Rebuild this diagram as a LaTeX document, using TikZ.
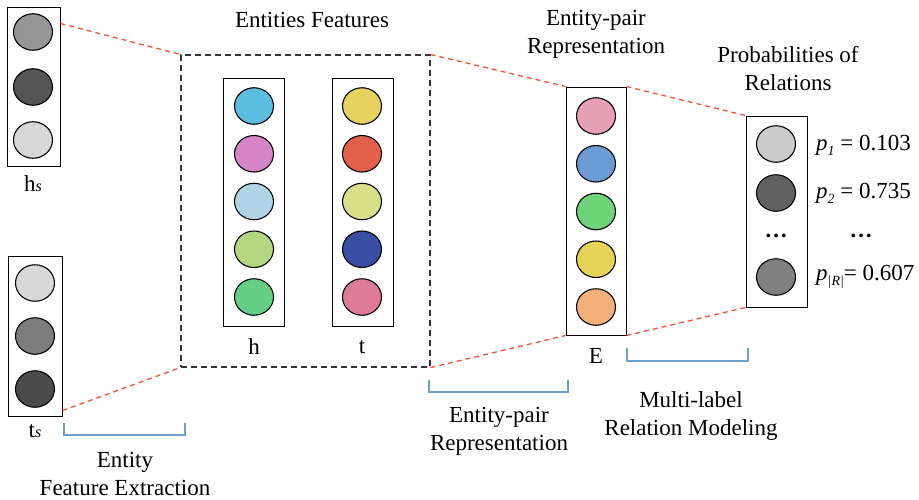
\documentclass[tikz,border=0pt]{standalone}
\usepackage{fontspec}
\setmainfont{Liberation Serif}
\newfontfamily\labelfont{Liberation Serif}
\usetikzlibrary{shapes.geometric}

% unit colours of the feature vectors
\definecolor{hsA}{HTML}{969696}\definecolor{hsB}{HTML}{555555}\definecolor{hsC}{HTML}{D7D7D7}
\definecolor{tsA}{HTML}{D8D8D8}\definecolor{tsB}{HTML}{7C7C7C}\definecolor{tsC}{HTML}{4B4B4B}
\definecolor{hA}{HTML}{5BBDE0}\definecolor{hB}{HTML}{D685C9}\definecolor{hC}{HTML}{B0D4E5}
\definecolor{hD}{HTML}{B3D780}\definecolor{hE}{HTML}{66CF86}
\definecolor{tA}{HTML}{E6D25E}\definecolor{tB}{HTML}{E3614A}\definecolor{tC}{HTML}{D8DF88}
\definecolor{tD}{HTML}{394DA4}\definecolor{tE}{HTML}{DD7B98}
\definecolor{eA}{HTML}{E79FB5}\definecolor{eB}{HTML}{6B9BD3}\definecolor{eC}{HTML}{6FD478}
\definecolor{eD}{HTML}{E7D357}\definecolor{eE}{HTML}{F4B07A}
\definecolor{rA}{HTML}{CBCBCB}\definecolor{rB}{HTML}{606060}\definecolor{rC}{HTML}{808080}
\definecolor{linkred}{HTML}{E8553A}
\definecolor{brace}{HTML}{6FA0CC}

\tikzset{
  unit/.style={ellipse, draw=black, line width=1.1pt, minimum width=39pt,
               minimum height=36.5pt, inner sep=0pt},
  vecbox/.style={rectangle, draw=black, line width=1pt, inner sep=0pt},
  groupbox/.style={rectangle, draw=black!80, line width=1.1pt,
                   dash pattern=on 6pt off 4pt, inner sep=0pt},
  link/.style={draw=linkred, line width=1.3pt, dash pattern=on 5pt off 4pt},
  bracketline/.style={draw=brace, line width=1.6pt},
  lbl/.style={font=\labelfont\fontsize{23}{28}\selectfont, align=center, inner sep=0pt},
}

\begin{document}
\begin{tikzpicture}[x=1pt, y=-1pt]
\useasboundingbox (0,0) rectangle (919,499);

% head and tail token features
\node[vecbox, minimum width=53pt, minimum height=159pt] (hs) at (33.5,86.5) {};
\node[unit, fill=hsA] (hs1) at (33,32) {};
\node[unit, fill=hsB] (hs2) at (33,87) {};
\node[unit, fill=hsC] (hs3) at (33,140) {};
\node[lbl] (hslbl) at (33,184) {h{\fontsize{16}{16}\selectfont\itshape s}};

\node[vecbox, minimum width=54pt, minimum height=160pt] (ts) at (35,336) {};
\node[unit, fill=tsA] (ts1) at (35,283) {};
\node[unit, fill=tsB] (ts2) at (35,336) {};
\node[unit, fill=tsC] (ts3) at (35,389) {};
\node[lbl] (tslbl) at (35,431) {t{\fontsize{16}{16}\selectfont\itshape s}};

% entity features
\node[groupbox, minimum width=249pt, minimum height=312pt] (grp) at (305.5,211) {};
\node[lbl] (grplbl) at (312,20) {Entities Features};

\node[vecbox, minimum width=61pt, minimum height=248pt] (hb) at (253.5,202) {};
\node[vecbox, minimum width=61pt, minimum height=248pt] (tb) at (362.5,202) {};
\foreach \c [count=\i] in {hA,hB,hC,hD,hE} {
  \pgfmathsetmacro{\yy}{106+47.75*(\i-1)}
  \node[unit, fill=\c] (h\i) at (254,\yy) {};
}
\foreach \c [count=\i] in {tA,tB,tC,tD,tE} {
  \pgfmathsetmacro{\yy}{106+47.75*(\i-1)}
  \node[unit, fill=\c] (t\i) at (362,\yy) {};
}
\node[lbl] (hlbl) at (254,347) {h};
\node[lbl] (tlbl) at (362,347) {t};

% entity-pair representation
\node[vecbox, minimum width=60pt, minimum height=248pt] (E) at (596,211) {};
\foreach \c [count=\i] in {eA,eB,eC,eD,eE} {
  \pgfmathsetmacro{\yy}{116+47.75*(\i-1)}
  \node[unit, fill=\c] (e\i) at (596,\yy) {};
}
\node[lbl] (Elbl) at (596,356) {E};
\node[lbl] (Etitle) at (596,34) {Entity-pair\\Representation};

% relation probabilities
\node[vecbox, minimum width=61pt, minimum height=191pt] (R) at (776.5,211.5) {};
\node[unit, fill=rA] (r1) at (776,144) {};
\node[unit, fill=rB] (r2) at (776,193) {};
\node[lbl] (rdots) at (776,236) {\textbf{\ldots}};
\node[unit, fill=rC] (r3) at (776,277) {};
\node[lbl] (Rtitle) at (788,69) {Probabilities of\\Relations};

\newcommand\psub[1]{\textit{p}\raisebox{-5pt}{\fontsize{14}{14}\selectfont\itshape #1}}
\node[lbl, anchor=west] (p1) at (816,145) {\psub{1} = 0.103};
\node[lbl, anchor=west] (p2) at (816,193) {\psub{2} = 0.735};
\node[lbl] (pdots) at (861,236) {\textbf{\ldots}};
\node[lbl, anchor=west] (p3) at (816,277) {\psub{|R|}= 0.607};

% red projection lines
\coordinate (hsout) at ([yshift=-17pt]hs.north east);
\coordinate (tsout) at ([yshift=6pt]ts.south east);
\draw[link] (hsout) -- (grp.north west);
\draw[link] (tsout) -- (grp.south west);
\draw[link] (grp.north east) -- (E.north west);
\draw[link] (grp.south east) -- (E.south west);
\draw[link] (E.north east) -- (R.north west);
\draw[link] (E.south east) -- (R.south west);

% stage brackets
\draw[bracketline] (64,423) -- (64,435) -- (185,435) -- (185,423);
\node[lbl] (stage1) at (125,474) {Entity\\Feature Extraction};
\draw[bracketline] (429,380) -- (429,392) -- (568,392) -- (568,380);
\node[lbl] (stage2) at (499,431) {Entity-pair\\Representation};
\draw[bracketline] (627,348) -- (627,361) -- (748,361) -- (748,348);
\node[lbl] (stage3) at (691,416) {Multi-label\\Relation Modeling};
\end{tikzpicture}
\end{document}
